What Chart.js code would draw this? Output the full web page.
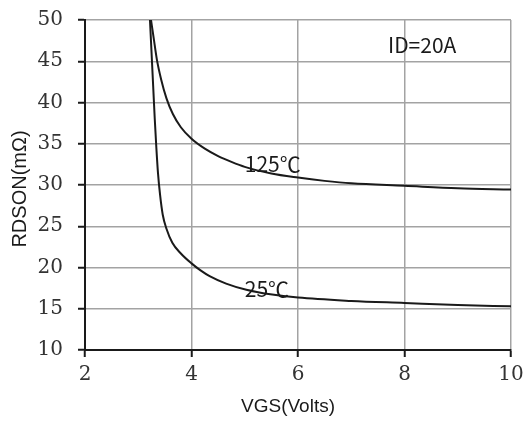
<!DOCTYPE html>
<html>
<head>
<meta charset="utf-8">
<script src="https://cdn.jsdelivr.net/npm/chart.js@4/dist/chart.umd.min.js"></script>
<style>
  html, body { margin: 0; padding: 0; background: #fff; }
  canvas { display: block; }
</style>
</head>
<body>
<canvas id="rdsChart" width="526" height="424"></canvas>
<script>
// RDS(on) vs VGS at ID = 20A, two junction temperatures
const vgs125 = [3.24, 3.29, 3.35, 3.43, 3.53, 3.65, 3.80, 4.00, 4.25, 4.50, 4.75, 5.00, 5.50, 6.00, 6.50, 7.00, 8.00, 9.00, 10.0];
const rds125 = [50, 47.8, 45.2, 42.8, 40.5, 38.6, 37.0, 35.6, 34.4, 33.5, 32.8, 32.2, 31.4, 30.9, 30.5, 30.2, 29.9, 29.6, 29.45];

const vgs25 = [3.22, 3.25, 3.28, 3.31, 3.34, 3.37, 3.41, 3.46, 3.53, 3.64, 3.80, 4.00, 4.17, 4.34, 4.65, 5.03, 5.48, 6.00, 7.00, 8.00, 9.00, 10.0];
const rds25 = [50, 46, 42, 38, 34.5, 31.5, 28.8, 26.4, 24.7, 23.0, 21.7, 20.5, 19.65, 18.95, 18.05, 17.3, 16.75, 16.35, 15.95, 15.7, 15.45, 15.3];

const xTicks = [2, 4, 6, 8, 10];
const yTicks = [10, 15, 20, 25, 30, 35, 40, 45, 50];

// text placed in data space: [label, x, y]
const curveLabels = [
    ['125℃', 5.0, 32.5],
    ['25℃', 5.0, 17.4],
    ['ID=20A', 7.69, 47.0]
];

const toPoints = (xs, ys) => xs.map((x, i) => ({ x: x, y: ys[i] }));

const lineStyle = {
    showLine: true,
    pointRadius: 0,
    borderColor: '#1a1a1a',
    borderWidth: 2,
    cubicInterpolationMode: 'monotone',
    fill: false
};

// keep the plot box fixed: no extra room for overhanging tick labels
const noOverflow = (scale) => {
    scale.paddingTop = 0;
    scale.paddingBottom = 0;
    scale.paddingLeft = 0;
    scale.paddingRight = 0;
};

const textPlugin = {
    id: 'chartText',
    afterDraw(chart) {
        const ctx = chart.ctx;
        const xs = chart.scales.x;
        const ys = chart.scales.y;
        const area = chart.chartArea;
        ctx.save();
        ctx.fillStyle = '#1a1a1a';
        ctx.textBaseline = 'middle';
        ctx.textAlign = 'left';
        ctx.font = '21px "Noto Sans CJK SC", "Liberation Sans", sans-serif';
        curveLabels.forEach(([txt, x, y]) => {
            ctx.fillText(txt, xs.getPixelForValue(x), ys.getPixelForValue(y));
        });

        // axis titles
        ctx.textAlign = 'center';
        ctx.font = '19px "Liberation Sans", Arial, sans-serif';
        ctx.fillText('VGS(Volts)', (area.left + area.right) / 2 - 10, 407);
        ctx.font = '20px "Liberation Sans", Arial, sans-serif';
        ctx.translate(20, (area.top + area.bottom) / 2 + 4);
        ctx.rotate(-Math.PI / 2);
        ctx.fillText('RDSON(mΩ)', 0, 0);
        ctx.restore();
    }
};

const tickFont = { family: '"DejaVu Serif", serif', size: 20 };

new Chart(document.getElementById('rdsChart'), {
    type: 'scatter',
    data: {
        datasets: [
            { label: '125℃', data: toPoints(vgs125, rds125), ...lineStyle },
            { label: '25℃', data: toPoints(vgs25, rds25), ...lineStyle }
        ]
    },
    options: {
        responsive: false,
        animation: false,
        layout: { padding: { top: 20, right: 15, left: 0, bottom: 0 } },
        plugins: {
            legend: { display: false },
            tooltip: { enabled: false }
        },
        scales: {
            x: {
                type: 'linear',
                min: 2,
                max: 10,
                afterBuildTicks: (scale) => { scale.ticks = xTicks.map(v => ({ value: v })); },
                afterFit: (scale) => { scale.height = 74; noOverflow(scale); },
                grid: { color: '#a3a3a3', lineWidth: 1.5, tickColor: '#1a1a1a', tickLength: 7, tickWidth: 2 },
                border: { color: '#1a1a1a', width: 2 },
                ticks: { color: '#333', font: tickFont, padding: 6, maxRotation: 0 }
            },
            y: {
                type: 'linear',
                min: 10,
                max: 50,
                afterBuildTicks: (scale) => { scale.ticks = yTicks.map(v => ({ value: v })); },
                afterFit: (scale) => { scale.width = 85; noOverflow(scale); },
                grid: { color: '#a3a3a3', lineWidth: 1.5, tickColor: '#1a1a1a', tickLength: 7, tickWidth: 2 },
                border: { color: '#1a1a1a', width: 2 },
                ticks: { color: '#333', font: tickFont, padding: 15 }
            }
        }
    },
    plugins: [textPlugin]
});
</script>
</body>
</html>
